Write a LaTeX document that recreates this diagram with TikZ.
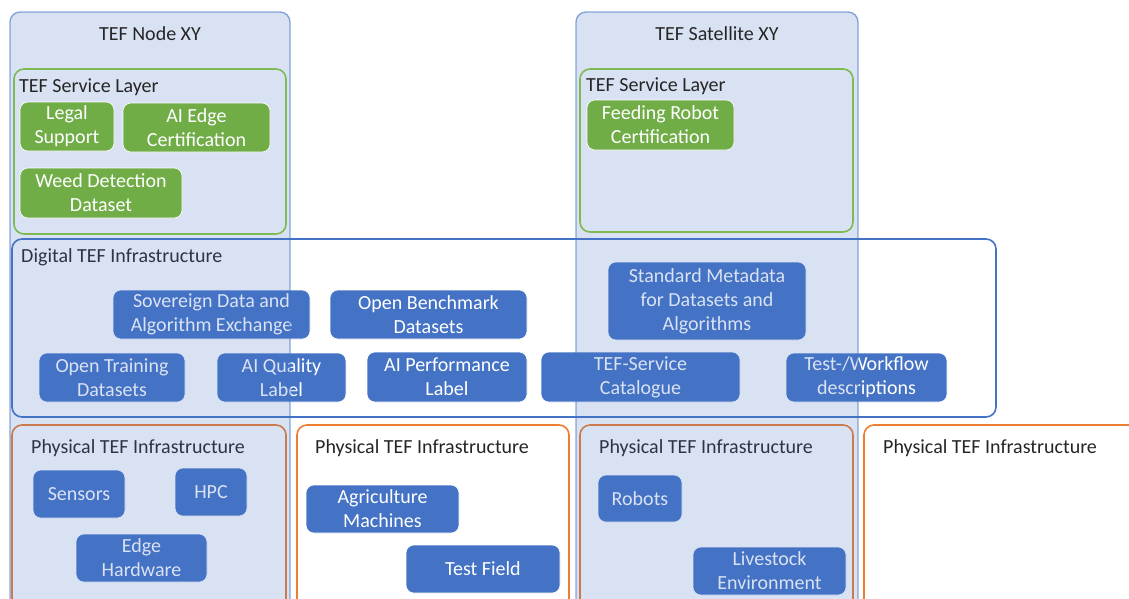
\documentclass[tikz,border=0pt]{standalone}
\usepackage{fontspec}
\setmainfont{Carlito}
\definecolor{tblue}{HTML}{4472C4}
\definecolor{tgreen}{HTML}{70AD47}
\definecolor{tgreenl}{HTML}{7DBB52}
\definecolor{torange}{HTML}{ED7D31}
\definecolor{ttext}{HTML}{262626}
\begin{document}
\begin{tikzpicture}[x=1pt,y=-1pt,
  every node/.style={font=\fontsize{20}{24}\selectfont},
  bbox/.style={draw=white, line width=0.6pt, fill=tblue, text=white, rounded corners=8pt, inner sep=0pt, align=center},
  gbox/.style={draw=white, line width=0.6pt, fill=tgreen, text=white, rounded corners=8pt, inner sep=0pt, align=center},
  frame/.style={rounded corners=10pt, line width=1.6pt, inner sep=0pt},
  lbl/.style={anchor=base west, inner sep=0pt, text=ttext},
  column/.style={rounded corners=10pt, fill=tblue, fill opacity=0.2, draw=tblue, draw opacity=0.6, line width=1.4pt, inner sep=0pt}
]
\useasboundingbox (0,0) rectangle (1129,598);
\clip (0,0) rectangle (1129,598);
\fill[white] (0,0) rectangle (1129,598);

% digital
\node[frame, draw=tblue, minimum width=984, minimum height=178] (dig) at (504,328) {};
\node[lbl] (digt) at (21,262) {Digital TEF Infrastructure};

% physical
\node[frame, draw=torange, minimum width=274, minimum height=200] (ph1) at (149,525) {};
\node[frame, draw=torange, minimum width=272, minimum height=200] (ph2) at (433,525) {};
\node[frame, draw=torange, minimum width=273, minimum height=200] (ph3) at (716.5,525) {};
\node[frame, draw=torange, minimum width=300, minimum height=200] (ph4) at (1014,525) {};
\node[lbl] (ph1t) at (31,453) {Physical TEF Infrastructure};
\node[lbl] (ph2t) at (315,453) {Physical TEF Infrastructure};
\node[lbl] (ph3t) at (599,453) {Physical TEF Infrastructure};
\node[lbl] (ph4t) at (883,453) {Physical TEF Infrastructure};

% digital boxes
\node[bbox, minimum width=197, minimum height=49] (sov) at (211.5,314.5) {Sovereign Data and\\Algorithm Exchange};
\node[bbox, minimum width=197, minimum height=49] (bench) at (428.5,314.5) {Open Benchmark\\Datasets};
\node[bbox, minimum width=198, minimum height=78] (meta) at (707,301) {Standard Metadata\\for Datasets and\\Algorithms};
\node[bbox, minimum width=146, minimum height=49] (train) at (112,377.5) {Open Training\\Datasets};
\node[bbox, minimum width=129, minimum height=49] (qual) at (281.5,377.5) {AI Quality\\Label};
\node[bbox, minimum width=160, minimum height=50] (perf) at (447,377) {AI Performance\\Label};
\node[bbox, minimum width=199, minimum height=50] (cat) at (640.5,377) {TEF-Service\\Catalogue};
\node[bbox, minimum width=161, minimum height=49] (work) at (866.5,377.5) {Test-/Workflow\\descriptions};

% physical boxes
\node[bbox, minimum width=92, minimum height=48] (sens) at (79,494) {Sensors};
\node[bbox, minimum width=72, minimum height=48] (hpc) at (211,492) {HPC};
\node[bbox, minimum width=131, minimum height=48] (edge) at (141.5,558) {Edge\\Hardware};
\node[bbox, minimum width=153, minimum height=48] (agri) at (382.5,509) {Agriculture\\Machines};
\node[bbox, minimum width=154, minimum height=48] (field) at (483,569) {Test Field};
\node[bbox, minimum width=84, minimum height=47] (rob) at (640,498.5) {Robots};
\node[bbox, minimum width=153, minimum height=48] (live) at (769.5,571) {Livestock\\Environment};

% columns (overlay)
\node[column, minimum width=280, minimum height=620] (col1) at (150,322) {};
\node[column, minimum width=282, minimum height=620] (col2) at (717,322) {};
\node[anchor=base, inner sep=0pt, text=ttext] (col1t) at (150,40) {TEF Node XY};
\node[anchor=base, inner sep=0pt, text=ttext] (col2t) at (717,40) {TEF Satellite XY};

% service layers
\node[frame, draw=tgreenl, minimum width=272, minimum height=165] (sl1) at (150,151.5) {};
\node[frame, draw=tgreenl, minimum width=273, minimum height=163] (sl2) at (716.5,150.5) {};
\node[lbl] (sl1t) at (19,92) {TEF Service Layer};
\node[lbl] (sl2t) at (586,91) {TEF Service Layer};

% green boxes
\node[gbox, minimum width=94, minimum height=49] (legal) at (67,126.5) {Legal\\Support};
\node[gbox, minimum width=147, minimum height=49] (aiedge) at (196.5,127.5) {AI Edge\\Certification};
\node[gbox, minimum width=162, minimum height=50] (weed) at (101,193) {Weed Detection\\Dataset};
\node[gbox, minimum width=147, minimum height=50] (feed) at (660.5,125) {Feeding Robot\\Certification};
\end{tikzpicture}
\end{document}
